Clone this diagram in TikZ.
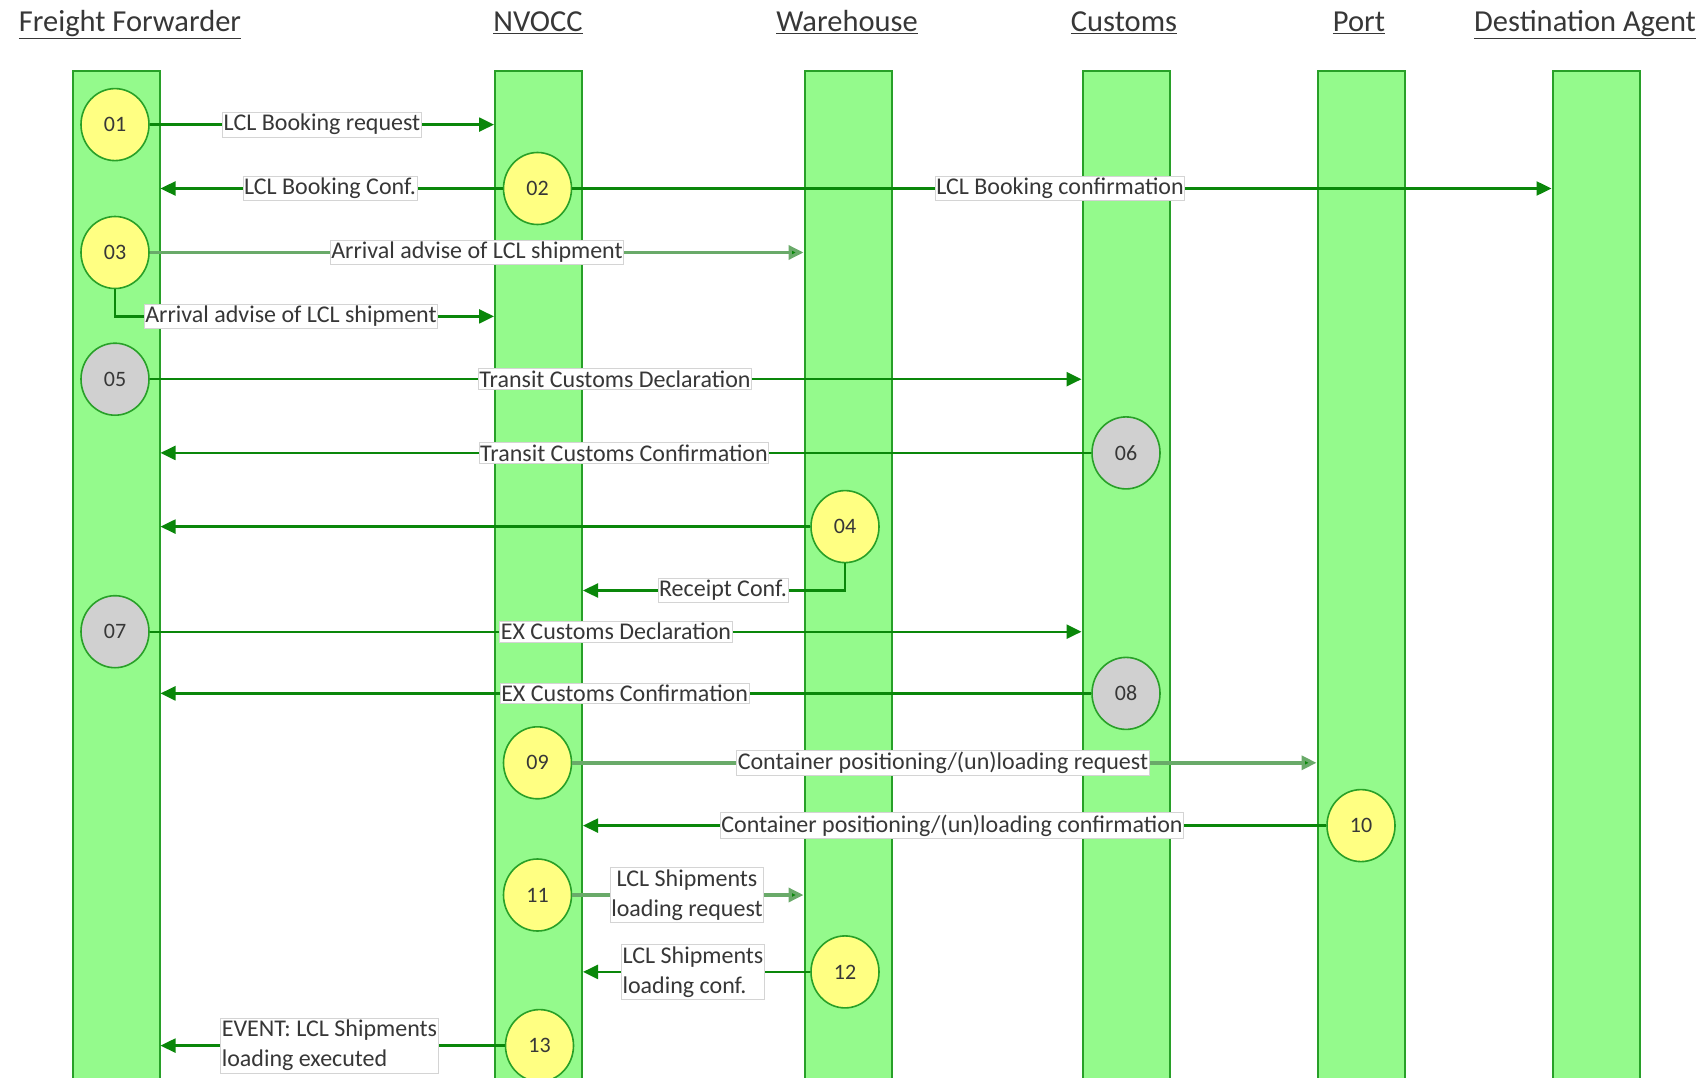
\documentclass[tikz,border=0pt]{standalone}
\usepackage{fontspec}
\setmainfont{Carlito}
\usetikzlibrary{arrows.meta,shapes.geometric}
\definecolor{lanefill}{RGB}{148,250,140}
\definecolor{laneedge}{RGB}{40,160,40}
\definecolor{arrgreen}{RGB}{10,135,10}
\definecolor{arrlight}{RGB}{105,170,105}
\definecolor{yel}{RGB}{255,255,130}
\definecolor{gry}{RGB}{208,208,208}
\definecolor{txt}{RGB}{55,55,55}
\definecolor{boxedge}{RGB}{212,212,212}
\begin{document}
\begin{tikzpicture}[x=1pt,y=-1pt,
  lane/.style={draw=laneedge, line width=2pt, fill=lanefill, minimum width=87pt, minimum height=1029pt, inner sep=0pt},
  hdr/.style={font=\fontsize{30.5}{34}\selectfont, text=txt, inner sep=0pt},
  num/.style={ellipse, draw=laneedge, line width=1.6pt, minimum width=68pt, minimum height=72pt, inner sep=0pt, text=txt, font=\fontsize{22}{24}\selectfont},
  yc/.style={num, fill=yel},
  gc/.style={num, fill=gry},
  arr/.style={draw=arrgreen, line width=2.4pt, -{Triangle[length=15pt,width=14pt]}},
  arrl/.style={arr, draw=arrlight, line width=3.4pt, -{Triangle[length=15pt,width=14pt,fill=arrgreen]}},
  lab/.style={fill=white, draw=boxedge, line width=0.8pt, text=txt, font=\fontsize{24}{30}\selectfont, inner xsep=1pt, inner ysep=2pt},
  labc/.style={lab, align=center},
  labl/.style={lab, align=left}
]
\useasboundingbox (0,0) rectangle (1699,1078);
\fill[white] (0,0) rectangle (1699,1078);

% headers
\node[hdr, anchor=base] (hff) at (130,32) {\underline{Freight Forwarder}};
\node[hdr, anchor=base] (hnv) at (538,32) {\underline{NVOCC}};
\node[hdr, anchor=base] (hwh) at (847,32) {\underline{Warehouse}};
\node[hdr, anchor=base] (hcu) at (1124,32) {\underline{Customs}};
\node[hdr, anchor=base] (hpo) at (1359,32) {\underline{Port}};
\node[hdr, anchor=base west] (hda) at (1474,32) {\underline{Destination Agent}};

% lanes
\node[lane] (ff) at (116,586) {};
\node[lane] (nv) at (538.5,586) {};
\node[lane] (wh) at (848,586) {};
\node[lane] (cu) at (1126,586) {};
\node[lane] (po) at (1361,586) {};
\node[lane] (da) at (1596,586) {};

% step circles
\node[yc] (c01) at (115,124.6) {01};
\node[yc] (c02) at (537.5,188.5) {02};
\node[yc] (c03) at (115,252.5) {03};
\node[gc] (c05) at (115,379.2) {05};
\node[gc] (c06) at (1126,452.9) {06};
\node[yc] (c04) at (845,526.6) {04};
\node[gc] (c07) at (115,631.7) {07};
\node[gc] (c08) at (1126,693.4) {08};
\node[yc] (c09) at (537.5,762.8) {09};
\node[yc] (c10) at (1361,825.6) {10};
\node[yc] (c11) at (537.5,895) {11};
\node[yc] (c12) at (845,971.9) {12};
\node[yc] (c13) at (539.5,1045.6) {13};

\coordinate (y3b) at (0,316.4);
\coordinate (y4b) at (0,590.5);

% connectors
\draw[arr] (c01.east) -- (c01 -| nv.west);
\draw[arr] (c02.west) -- (c02 -| ff.east);
\draw[arr] (c02.east) -- (c02 -| da.west);
\draw[arrl] (c03.east) -- (c03 -| wh.west);
\draw[arr] (c03.south) |- (y3b -| nv.west);
\draw[arr] (c05.east) -- (c05 -| cu.west);
\draw[arr] (c06.west) -- (c06 -| ff.east);
\draw[arr] (c04.west) -- (c04 -| ff.east);
\draw[arr] (c04.south) |- (y4b -| nv.east);
\draw[arr] (c07.east) -- (c07 -| cu.west);
\draw[arr] (c08.west) -- (c08 -| ff.east);
\draw[arrl] (c09.east) -- (c09 -| po.west);
\draw[arr] (c10.west) -- (c10 -| nv.east);
\draw[arrl] (c11.east) -- (c11 -| wh.west);
\draw[arr] (c12.west) -- (c12 -| nv.east);
\draw[arr] (c13.west) -- (c13 -| ff.east);

% labels
\node[lab] (l01) at (322,124.6) {LCL Booking request};
\node[lab] (l02a) at (330,188.5) {LCL Booking Conf.};
\node[lab] (l02b) at (1060,188.5) {LCL Booking confirmation};
\node[lab] (l03a) at (477,252.5) {Arrival advise of LCL shipment};
\node[lab] (l03b) at (291,316.4) {Arrival advise of LCL shipment};
\node[lab] (l05) at (615,379.2) {Transit Customs Declaration};
\node[lab] (l06) at (624,452.9) {Transit Customs Confirmation};
\node[lab] (l04) at (723,590.5) {Receipt Conf.};
\node[lab] (l07) at (616,631.7) {EX Customs Declaration};
\node[lab] (l08) at (624.6,693.4) {EX Customs Confirmation};
\node[lab] (l09) at (943,762.8) {Container positioning/(un)loading request};
\node[lab] (l10) at (952,825.6) {Container positioning/(un)loading confirmation};
\node[labc] (l11) at (687,895) {LCL Shipments\\loading request};
\node[labl] (l12) at (693,971.9) {LCL Shipments\\loading conf.};
\node[labl] (l13) at (329.5,1045.6) {EVENT: LCL Shipments\\loading executed};
\end{tikzpicture}
\end{document}
